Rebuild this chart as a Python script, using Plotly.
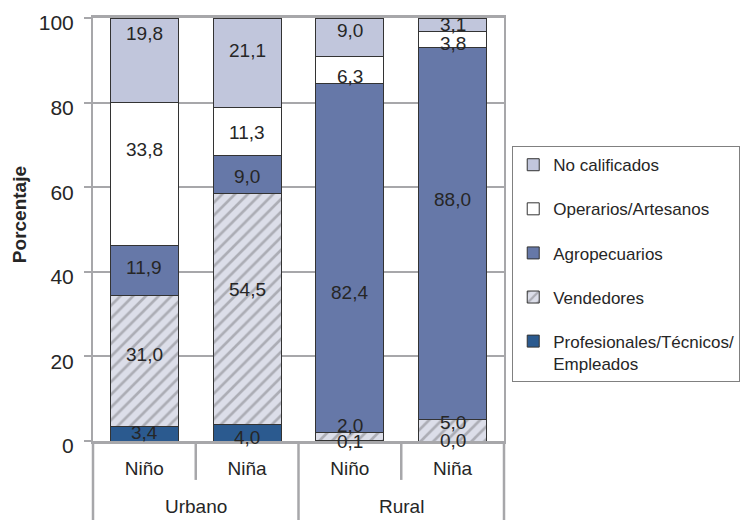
import plotly.graph_objects as go

# ---- data ----
areas = ["Urbano", "Urbano", "Rural", "Rural"]
sexes = ["Niño", "Niña", "Niño", "Niña"]
series_names = [
    "Profesionales/Técnicos/<br>Empleados",
    "Vendedores",
    "Agropecuarios",
    "Operarios/Artesanos",
    "No calificados",
]
values = [
    [3.4, 4.0, 0.1, 0.0],      # Profesionales/Técnicos/Empleados
    [31.0, 54.5, 2.0, 5.0],    # Vendedores
    [11.9, 9.0, 82.4, 88.0],   # Agropecuarios
    [33.8, 11.3, 6.3, 3.8],    # Operarios/Artesanos
    [19.8, 21.1, 9.0, 3.1],    # No calificados
]
y_ticks = [0, 20, 40, 60, 80, 100]

# ---- styles ----
colors = ["#2b5a8f", "#dcdee9", "#6678a8", "#ffffff", "#c1c6dc"]
# pixel nudges of the value labels (style only)
label_shift = [
    [1, -5, -1, 1],
    [7, 19, 11, 8],
    [3, -2, -35, 34],
    [24, -1, -6, -4],
    [27, 13, 7, 0],
]
GRID = "#a7a7aa"
TXT = "#262626"
FONT = "Liberation Sans, Arial, sans-serif"

x = list(range(len(sexes)))
fig = go.Figure()
n = len(series_names)
for i, name in enumerate(series_names):
    marker = dict(color=colors[i], line=dict(color="#333333", width=1))
    if i == 1:
        marker["pattern"] = dict(shape="/", fgcolor="#7c7c82", bgcolor=colors[i],
                                 size=9, solidity=0.3)
    fig.add_trace(go.Bar(x=x, y=values[i], name=name, marker=marker,
                         width=0.66, legendgroup=str(i), legendrank=n - i,
                         hoverinfo="skip"))

# value labels
annotations = []
for j in range(len(x)):
    base = 0.0
    for i in range(n):
        v = values[i][j]
        annotations.append(dict(
            x=x[j], y=base + v / 2, xref="x", yref="y",
            text=f"{v:.1f}".replace(".", ","), showarrow=False,
            yshift=label_shift[i][j], font=dict(size=19, color=TXT, family=FONT)))
        base += v

# outer category labels
groups = []
for j, a in enumerate(areas):
    if not groups or groups[-1][0] != a:
        groups.append([a, [j]])
    else:
        groups[-1][1].append(j)
for a, idx in groups:
    annotations.append(dict(
        x=sum(idx) / len(idx), y=-0.156, xref="x", yref="paper",
        text=a, showarrow=False, yanchor="middle",
        font=dict(size=19, color=TXT, family=FONT)))

# y-axis title
annotations.append(dict(
    x=-0.18, y=0.534, xref="paper", yref="paper", text="<b>Porcentaje</b>",
    textangle=-90, showarrow=False, xanchor="center", yanchor="middle",
    font=dict(size=19, color=TXT, family=FONT)))

# divider lines below axis
xmin, xmax = -0.5, len(x) - 0.5
shapes = []
for b in range(len(x) + 1):
    pos = b - 0.5
    outer = b == 0 or b == len(x) or areas[b - 1] != areas[b]
    shapes.append(dict(
        type="line", xref="x domain", yref="paper",
        x0=(pos - xmin) / (xmax - xmin), x1=(pos - xmin) / (xmax - xmin),
        y0=0, y1=-0.2 if outer else -0.092,
        line=dict(color=GRID, width=2.5)))

fig.update_layout(
    barmode="stack",
    width=742, height=512,
    margin=dict(l=85, r=238, t=10, b=79),
    paper_bgcolor="white", plot_bgcolor="white",
    font=dict(family=FONT, color=TXT),
    showlegend=True,
    legend=dict(
        x=1.02, y=0.697, xanchor="left", yanchor="top",
        traceorder="grouped", tracegroupgap=19,
        bordercolor="#808080", borderwidth=1,
        font=dict(size=17, color=TXT, family=FONT), valign="top",
    ),
    annotations=annotations,
    shapes=shapes,
)
fig.update_yaxes(
    range=[0, 100], tickvals=y_ticks, showgrid=True, gridcolor=GRID, gridwidth=2,
    ticks="outside", ticklen=7, tickwidth=2, tickcolor=GRID,
    showline=True, linecolor=GRID, linewidth=2, mirror=True,
    tickfont=dict(size=21, color=TXT), ticklabelstandoff=6, ticklabelshift=5,
    ticklabeloverflow="allow",
    zeroline=False, automargin=False,
)
fig.update_xaxes(
    range=[xmin, xmax], tickvals=x, ticktext=sexes, ticks="",
    showline=True, linecolor=GRID, linewidth=2.5, mirror=True, showgrid=False,
    tickfont=dict(size=19, color=TXT), ticklabelstandoff=8, zeroline=False,
    ticklabeloverflow="allow", automargin=False,
)

fig.write_html("out.html")
